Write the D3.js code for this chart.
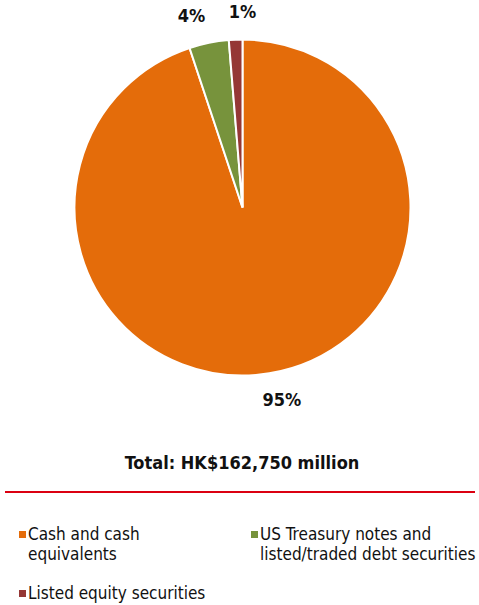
<!DOCTYPE html>
<html><head><meta charset="utf-8">
<script src="https://cdn.jsdelivr.net/npm/d3@7"></script>
<style>body{margin:0;background:#fff;} svg{display:block;}</style>
</head><body>
<svg id="c" width="479" height="605"></svg>
<script>
const categories = ["Cash and cash equivalents", "US Treasury notes and listed/traded debt securities", "Listed equity securities"];
const values = [94.9, 3.8, 1.3];
const labels = ["95%", "4%", "1%"];
const colors = ["#E46C0A", "#77933C", "#953735"];
const title = "Total: HK$162,750 million";
const legendLines = [["Cash and cash", "equivalents"], ["US Treasury notes and", "listed/traded debt securities"], ["Listed equity securities"]];

const font = "'DejaVu Sans Condensed','Liberation Sans Narrow','Noto Sans',sans-serif";
const svg = d3.select("#c");
const cx = 242.5, cy = 207.5, R = 168;
const pie = d3.pie().sort(null).value(d => d)(values);
const arc = d3.arc().innerRadius(0).outerRadius(R);
const g = svg.append("g").attr("transform", `translate(${cx},${cy})`);
g.selectAll("path").data(pie).join("path")
  .attr("d", arc).attr("fill", (d,i) => colors[i])
  .attr("stroke", "#fff").attr("stroke-width", 2);
const labArc = d3.arc().innerRadius(197).outerRadius(197);
g.selectAll("text").data(pie).join("text")
  .attr("x", d => { const x = labArc.centroid(d)[0]; return x < -10 ? x + 2 : x + 8; })
  .attr("y", d => labArc.centroid(d)[1] + (labArc.centroid(d)[1] < 0 ? 1 : -2))
  .attr("text-anchor", d => labArc.centroid(d)[0] < -10 ? "end" : "middle")
  .attr("dominant-baseline", "central")
  .attr("font-family", font).attr("font-weight", "bold").attr("font-size", 18)
  .attr("fill", "#111").text((d,i) => labels[i]);

svg.append("text").attr("x", 242).attr("y", 469).attr("text-anchor", "middle")
  .attr("font-family", font).attr("font-weight", "bold").attr("font-size", 18)
  .attr("fill", "#111").text(title);
svg.append("line").attr("x1", 5).attr("x2", 475).attr("y1", 492).attr("y2", 492)
  .attr("stroke", "#DB0011").attr("stroke-width", 2);

const legPos = [[19, 540], [251, 540], [19, 599]];
categories.forEach((c, i) => {
  const [x, y] = legPos[i];
  svg.append("rect").attr("x", x).attr("y", y - 9).attr("width", 7).attr("height", 7).attr("fill", colors[i]);
  const t = svg.append("text").attr("x", x + 9).attr("y", y)
    .attr("font-family", font).attr("font-size", 17).attr("fill", "#111");
  legendLines[i].forEach((ln, j) => t.append("tspan").attr("x", x + 9).attr("dy", j ? 20 : 0).text(ln));
});
</script>
</body></html>
